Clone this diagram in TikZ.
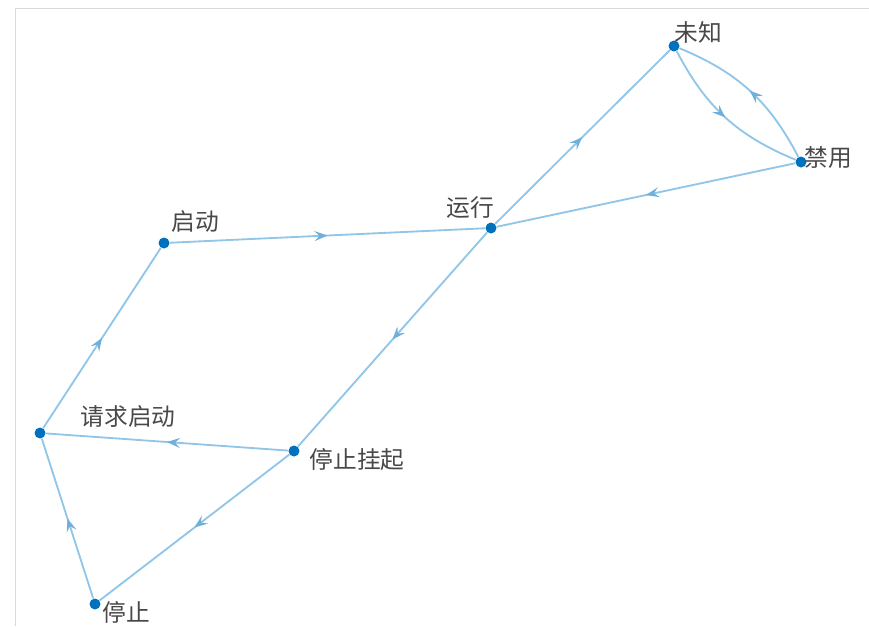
\documentclass[tikz,border=0pt]{standalone}
\usepackage{fontspec}
\newfontfamily\cjk{Noto Sans CJK SC}
\usetikzlibrary{arrows.meta, decorations.markings, positioning}
\definecolor{edgeblue}{RGB}{145,198,232}
\definecolor{tipblue}{RGB}{110,175,220}
\definecolor{nodeblue}{RGB}{0,114,189}
\definecolor{labelgray}{RGB}{72,72,72}
\definecolor{framegray}{RGB}{218,218,218}
\tikzset{
	state/.style={circle, fill=nodeblue, inner sep=0pt, minimum size=0.22cm},
	statelabel/.style={font=\cjk\fontsize{13.5}{16}\selectfont, text=labelgray, inner sep=0pt},
	transition/.style={draw=edgeblue, line width=1.05pt, postaction={decorate},
		decoration={markings, mark=at position 0.5 with
			{\arrow{Stealth[length=0.26cm, width=0.2cm, inset=0.1cm, color=tipblue]}}}}
}

\begin{document}
\begin{tikzpicture}[x=0.02cm, y=-0.02cm]
		\useasboundingbox (0,0) rectangle (869,626);
		\draw[framegray, line width=1.1pt] (15.5,626) -- (15.5,8.5) -- (869,8.5);
		\node[state] (unknown)  at (674, 46){};
		\node[state] (disabled) at (801,162){};
		\node[state] (running)  at (491,228){};
		\node[state] (starting) at (164,243){};
		\node[state] (request)  at ( 40,433){};
		\node[state] (suspend)  at (294,451){};
		\node[state] (stopped)  at ( 95,604){};
		\node[statelabel] (unknown-lbl)  at (698, 32) {未知};
		\node[statelabel] (disabled-lbl) at (828,158) {禁用};
		\node[statelabel] (running-lbl)  at (470,208) {运行};
		\node[statelabel] (starting-lbl) at (195,221) {启动};
		\node[statelabel] (request-lbl)  at (128,416) {请求启动};
		\node[statelabel] (suspend-lbl)  at (357,460) {停止挂起};
		\node[statelabel] (stopped-lbl)  at (126,612) {停止};
		\draw[transition] (starting) -- (running);
		\draw[transition] (running)  -- (unknown);
		\draw[transition] (unknown)  to[bend right=20] (disabled);
		\draw[transition] (disabled) to[bend right=20] (unknown);
		\draw[transition] (disabled) -- (running);
		\draw[transition] (running)  -- (suspend);
		\draw[transition] (suspend)  -- (request);
		\draw[transition] (suspend)  -- (stopped);
		\draw[transition] (stopped)  -- (request);
		\draw[transition] (request)  -- (starting);
	\end{tikzpicture}
\end{document}
